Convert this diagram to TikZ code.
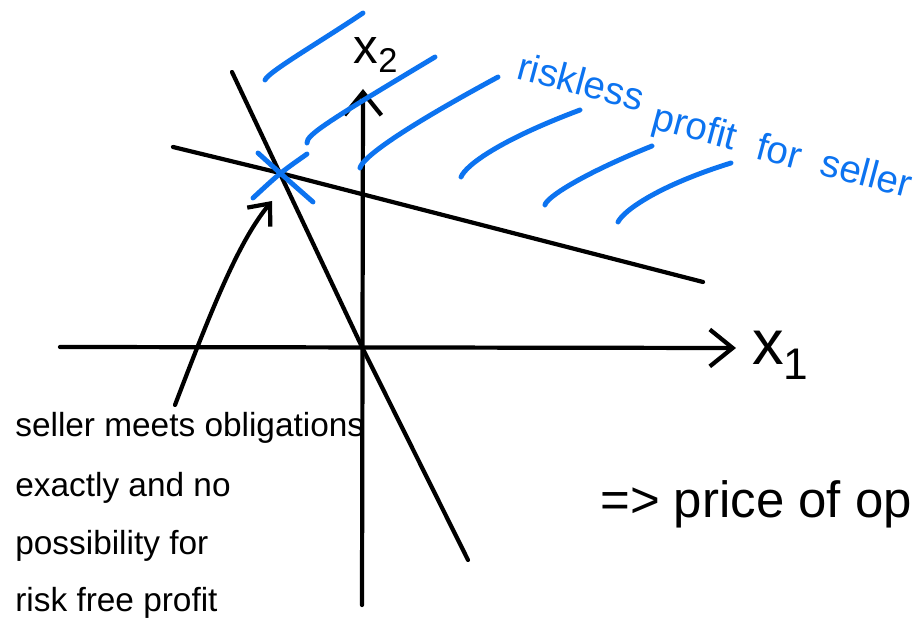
\documentclass[tikz,border=0pt]{standalone}
\usepackage{fontspec}
\setmainfont{Liberation Sans}
\usepackage{tikz}
\usetikzlibrary{arrows.meta}
\definecolor{penblue}{RGB}{12,115,240}

\begin{document}
\begin{tikzpicture}[x=0.02cm,y=-0.02cm,line cap=round,line join=round,
  ink/.style={black,line width=2.4pt},
  hatch/.style={penblue,line width=2.8pt},
  barb/.style={-{Straight Barb[length=13pt,width=21pt]}},
  note/.style={font=\fontsize{19}{21}\selectfont,anchor=base west,inner sep=0pt},
  blueword/.style={penblue,font=\fontsize{22}{22}\selectfont,rotate=-15,anchor=base west,inner sep=0pt}]
\useasboundingbox (0,0) rectangle (914,641);
% axes and the two constraint lines
\coordinate (O) at (362,347);
\coordinate (cross) at (280,173);
\draw[ink,barb] (60,347) -- (736,348) coordinate (x1tip);
\draw[ink,barb] (362,605) -- (363,89) coordinate (x2tip);
\draw[ink] (232,72) -- (O) -- (468,560);
\draw[ink] (173,147) -- (cross) -- (703,282);
\node[font=\fontsize{36}{36}\selectfont,inner sep=0pt,anchor=west] (x1lab) at (752,355) {x\textsubscript{1}};
\node[font=\fontsize{28}{28}\selectfont,inner sep=0pt] (x2lab) at (376,55) {x\textsubscript{2}};
% blue hatching of the profit region
\draw[hatch] (265,80) .. controls (268,72) and (320,42) .. (363,13);
\draw[hatch] (307,143) .. controls (306,135) and (330,120) .. (435,57);
\draw[hatch] (360,168) .. controls (362,158) and (400,130) .. (498,77);
\draw[hatch] (461,177) .. controls (466,165) and (500,140) .. (580,110);
\draw[hatch] (545,205) .. controls (546,198) and (580,175) .. (652,146);
\draw[hatch] (618,222) .. controls (624,210) and (660,185) .. (731,163);
\draw[hatch] (258,153) .. controls (cross) .. (313,202);
\draw[hatch] (253,198) .. controls (cross) .. (307,154);
\foreach \w/\xx/\yy in {riskless/515/78, profit/650/128, for/754/158, seller/818/174}
  \node[blueword] (blue\w) at (\xx,\yy) {\w};
% note with arrow to the intersection
\foreach \t/\yy [count=\i] in {seller meets obligations/437, exactly and no/497,
                               possibility for/555, risk free profit/612}
  \node[note] (note\i) at (15,\yy) {\t};
\coordinate (tail) at (175,405);
\draw[ink,-{Straight Barb[length=10pt,width=17pt]}] (tail) .. controls (215,300) and (240,240) .. (272,201);
\node[font=\fontsize{29}{29}\selectfont,anchor=base west,inner sep=0pt] (price) at (600,518) {=> price of op};
\end{tikzpicture}
\end{document}
